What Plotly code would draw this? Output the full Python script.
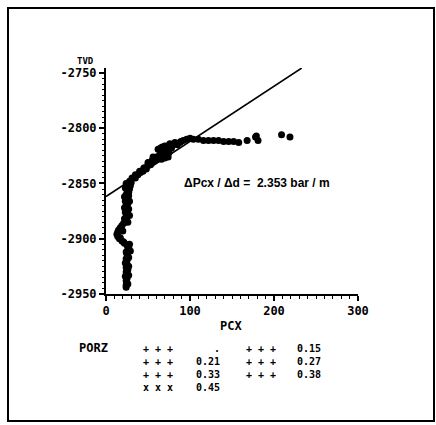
import plotly.graph_objects as go

# ---- data ----
pcx = [24, 27, 23, 25, 27, 24, 22, 26, 23, 26, 24, 22, 25, 23, 26, 24, 22, 25, 21, 19,
       17, 15, 14, 13, 14, 16, 19, 22, 25, 27, 26, 24, 25, 26, 24, 25, 23, 25, 24, 26,
       24, 25, 23, 25, 24, 25, 24, 24,
       27, 28, 27, 28, 26, 20, 17, 21, 28, 29, 27, 27, 27, 26,
       28, 31, 35, 38, 41, 44, 46, 48, 50, 53, 55, 57, 56, 60, 63, 66, 70, 74, 65, 68,
       70, 73, 76, 80, 85, 89, 92, 96, 100, 104, 110, 116, 122, 128, 134, 140, 146, 152,
       158, 168, 178, 181, 179, 209, 219,
       55, 60, 64, 70, 75, 62, 67, 72, 78, 82, 88, 50, 45, 40, 35, 30, 29, 28]
tvd = [-2850, -2852, -2854, -2856, -2858, -2860, -2862, -2864, -2866, -2868, -2870, -2872,
       -2874, -2876, -2878, -2880, -2882, -2884, -2886, -2888, -2890, -2892, -2894, -2896,
       -2898, -2900, -2902, -2904, -2906, -2908, -2910, -2912, -2914, -2916, -2918, -2920,
       -2922, -2924, -2926, -2928, -2930, -2932, -2934, -2936, -2938, -2940, -2942, -2944,
       -2861, -2866, -2873, -2879, -2885, -2893, -2899, -2903, -2905, -2911, -2917, -2925,
       -2933, -2941,
       -2848, -2845, -2845, -2842, -2840, -2839, -2836, -2837, -2833, -2833, -2829, -2829,
       -2826, -2826, -2827, -2828, -2827, -2826, -2818, -2820, -2816, -2816, -2814, -2815,
       -2815, -2812, -2811, -2810, -2809, -2810, -2810, -2811, -2811, -2811, -2811, -2812,
       -2812, -2812, -2813, -2811, -2808, -2811, -2807, -2806, -2808,
       -2830, -2828, -2824, -2823, -2822, -2819, -2817, -2820, -2818, -2813, -2813, -2831,
       -2836, -2839, -2842, -2849, -2852, -2855]

fit_intercept = -2861.8      # TVD at PCX = 0
fit_slope = 0.499            # m per PCX unit (as drawn)
fit_end_pcx = 233

x_ticks = [0, 100, 200, 300]
y_ticks = [-2950, -2900, -2850, -2800, -2750]

legend_title = "PORZ"
legend_col1_symbols = ["+ + +", "+ + +", "+ + +", "x x x"]
legend_col1_values = [".", "0.21", "0.33", "0.45"]
legend_col2_symbols = ["+ + +", "+ + +", "+ + +"]
legend_col2_values = ["0.15", "0.27", "0.38"]

# ---- layout geometry ----
W, H = 436, 425
L, R, T, B = 106, 78, 68, 131
PW, PH = W - L - R, H - T - B


def px(xp):
    return (xp - L) / PW


def py(yp):
    return (H - B - yp) / PH


fig = go.Figure()
fig.add_trace(go.Scatter(
    x=pcx, y=tvd, mode="markers",
    marker=dict(symbol="circle", size=7, color="black"),
    showlegend=False, hoverinfo="skip"))

fit_x = [0, fit_end_pcx]
fit_y = [fit_intercept + fit_slope * v for v in fit_x]
fig.add_trace(go.Scatter(
    x=fit_x, y=fit_y, mode="lines",
    line=dict(color="black", width=1.6),
    showlegend=False, hoverinfo="skip"))

tickfont = dict(family="DejaVu Sans Mono", size=12, color="black", weight="bold")

fig.update_xaxes(
    range=[0, 300], tickvals=x_ticks, ticktext=[str(v) for v in x_ticks],
    showgrid=False, zeroline=False, showline=True, linecolor="black", linewidth=2,
    ticks="outside", ticklen=5, tickwidth=1.5, tickcolor="black",
    minor=dict(dtick=10, ticks="outside", ticklen=3, tickcolor="black", tickwidth=1),
    tickfont=tickfont)
fig.update_yaxes(
    range=[-2950, -2745.5], tickvals=y_ticks, ticktext=[str(v) for v in y_ticks],
    showgrid=False, zeroline=False, showline=True, linecolor="black", linewidth=2,
    ticks="outside", ticklen=5, tickwidth=1.5, tickcolor="black",
    minor=dict(dtick=5, ticks="outside", ticklen=2, tickcolor="black", tickwidth=1),
    tickfont=tickfont)

ann = []
boldmono = dict(family="DejaVu Sans Mono", size=12, color="black", weight="bold")
legfont = dict(family="DejaVu Sans Mono", size=10, color="black", weight="bold")
ann.append(dict(x=px(85), y=py(61), xref="paper", yref="paper", text="TVD",
                showarrow=False, xanchor="center", yanchor="middle",
                font=dict(family="DejaVu Sans Mono", size=9, color="black", weight="bold")))
ann.append(dict(x=px(231), y=py(326), xref="paper", yref="paper", text="PCX",
                showarrow=False, xanchor="center", yanchor="middle", font=boldmono))
ann.append(dict(x=px(182), y=py(183), xref="paper", yref="paper",
                text="\u0394Pcx / \u0394d =  2.353 bar / m",
                showarrow=False, xanchor="left", yanchor="middle",
                font=dict(family="Liberation Sans", size=12, color="black", weight="bold")))
ann.append(dict(x=px(77), y=py(348), xref="paper", yref="paper", text=legend_title,
                showarrow=False, xanchor="left", yanchor="middle", font=boldmono))

top = 341
blocks = [
    (legend_col1_symbols, 141, "left"),
    (legend_col1_values, 222, "right"),
    (legend_col2_symbols, 244, "left"),
    (legend_col2_values, 323, "right"),
]
for lines, xpos, side in blocks:
    ann.append(dict(x=px(xpos), y=py(top), xref="paper", yref="paper",
                    text="<br>".join(lines), showarrow=False, xanchor=side,
                    yanchor="top", align=side, font=legfont))

fig.update_layout(
    width=W, height=H, autosize=False,
    margin=dict(l=L, r=R, t=T, b=B, pad=0),
    paper_bgcolor="white", plot_bgcolor="white",
    annotations=ann,
    shapes=[dict(type="rect", xref="paper", yref="paper",
                 x0=px(8), x1=px(434), y0=py(421), y1=py(8),
                 line=dict(color="black", width=2), layer="below")],
)

fig.write_html("out.html")
